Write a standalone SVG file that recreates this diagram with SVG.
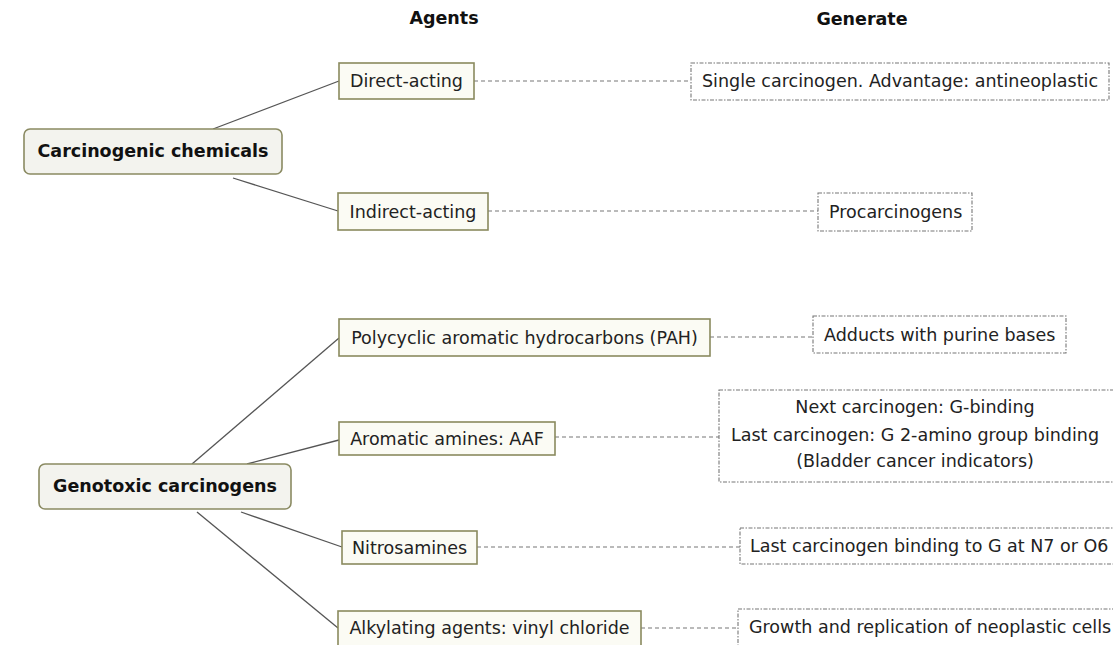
<svg xmlns="http://www.w3.org/2000/svg" width="1113" height="645" viewBox="0 0 1113 645">
  <style>
    text { font-family: "DejaVu Sans", Verdana, "Liberation Sans", sans-serif; font-size: 17.5px; fill: #222; }
    .hdr { font-weight: bold; fill: #111; text-anchor: middle; }
    .root rect { fill: #f3f3ee; stroke: #8a8a62; stroke-width: 1.6; }
    .root text { font-weight: bold; fill: #111; text-anchor: middle; }
    .agent rect { fill: #fbfbf4; stroke: #8a8a5e; stroke-width: 1.6; }
    .agent text { text-anchor: middle; }
    .result rect { fill: #ffffff; stroke: #777; stroke-width: 1.1; stroke-dasharray: 4 1.5 1.5 1.5; }
    .tree line { stroke: #555; stroke-width: 1.3; }
    .link line { stroke: #777; stroke-width: 1.1; stroke-dasharray: 4 3; }
  </style>
  <rect width="1113" height="645" fill="#ffffff"/>

  <!-- column headings -->
  <text class="hdr" x="444" y="24">Agents</text>
  <text class="hdr" x="862" y="25">Generate</text>

  <!-- connectors -->
  <g id="connectors">
    <g class="tree">
      <line x1="213" y1="129" x2="339" y2="81"/>
      <line x1="233" y1="178" x2="338" y2="211"/>
      <line x1="192" y1="464" x2="339" y2="338"/>
      <line x1="247" y1="464" x2="339" y2="440"/>
      <line x1="241" y1="512" x2="342" y2="547"/>
      <line x1="197" y1="512" x2="338" y2="628"/>
    </g>
    <g class="link">
      <line x1="474" y1="81" x2="691" y2="81"/>
      <line x1="488" y1="211" x2="818" y2="211"/>
      <line x1="710" y1="337" x2="813" y2="337"/>
      <line x1="555" y1="437" x2="719" y2="437"/>
      <line x1="477" y1="547" x2="740" y2="547"/>
      <line x1="641" y1="628" x2="738" y2="628"/>
    </g>
  </g>

  <!-- root nodes -->
  <g id="carcinogenic-chemicals" class="root">
    <rect x="24" y="129" width="258" height="45" rx="6"/>
    <text x="153" y="157">Carcinogenic chemicals</text>
  </g>
  <g id="genotoxic-carcinogens" class="root">
    <rect x="39" y="464" width="252" height="45" rx="6"/>
    <text x="165" y="492">Genotoxic carcinogens</text>
  </g>

  <!-- agents -->
  <g id="direct-acting" class="agent">
    <rect x="339" y="63" width="135" height="36"/>
    <text x="406.5" y="87">Direct-acting</text>
  </g>
  <g id="indirect-acting" class="agent">
    <rect x="338" y="193" width="150" height="37"/>
    <text x="413" y="217.5">Indirect-acting</text>
  </g>
  <g id="pah" class="agent">
    <rect x="339" y="319" width="371" height="37"/>
    <text x="524.5" y="343.5">Polycyclic aromatic hydrocarbons (PAH)</text>
  </g>
  <g id="aromatic-amines" class="agent">
    <rect x="339" y="422" width="216" height="33"/>
    <text x="447" y="444.5">Aromatic amines: AAF</text>
  </g>
  <g id="nitrosamines" class="agent">
    <rect x="342" y="531" width="135" height="33"/>
    <text x="409.5" y="553.5">Nitrosamines</text>
  </g>
  <g id="alkylating-agents" class="agent">
    <rect x="338" y="611" width="303" height="44"/>
    <text x="489.5" y="634">Alkylating agents: vinyl chloride</text>
  </g>

  <!-- results -->
  <g id="single-carcinogen" class="result">
    <rect x="691" y="63" width="418" height="37"/>
    <text x="702" y="87">Single carcinogen. Advantage: antineoplastic</text>
  </g>
  <g id="procarcinogens" class="result">
    <rect x="818" y="193" width="154" height="38"/>
    <text x="829" y="217.5">Procarcinogens</text>
  </g>
  <g id="adducts" class="result">
    <rect x="813" y="316" width="253" height="37"/>
    <text x="824" y="340.5">Adducts with purine bases</text>
  </g>
  <g id="g-binding" class="result">
    <rect x="719" y="390" width="400" height="92"/>
    <text x="915" y="413" text-anchor="middle">Next carcinogen: G-binding</text>
    <text x="915" y="441" text-anchor="middle">Last carcinogen: G 2-amino group binding</text>
    <text x="915" y="467" text-anchor="middle">(Bladder cancer indicators)</text>
  </g>
  <g id="n7-o6" class="result">
    <rect x="740" y="528" width="380" height="36"/>
    <text x="750" y="552">Last carcinogen binding to G at N7 or O6</text>
  </g>
  <g id="neoplastic-growth" class="result">
    <rect x="738" y="609" width="380" height="45"/>
    <text x="749" y="633">Growth and replication of neoplastic cells</text>
  </g>
</svg>
